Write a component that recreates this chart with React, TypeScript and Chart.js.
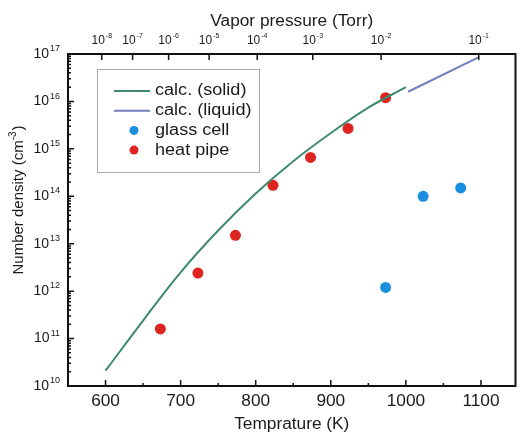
import React, { useEffect, useRef } from 'react';
import { Chart, registerables } from 'chart.js';

Chart.register(...registerables);

// ---- data ----
const solidTemps = [600, 650, 700, 750, 800, 850, 900, 950, 1000];
const solidDensity = [2.1e10, 2.4e11, 2.5e12, 1.9e13, 1.15e14, 5.5e14, 2.15e15, 7.4e15, 2.0e16];
const liquidTemps = [1003, 1098];
const liquidDensity = [1.6e16, 8.7e16];
const glassTemps = [973, 1023, 1073];
const glassDensity = [1.2e12, 1.0e14, 1.5e14];
const heatTemps = [673, 723, 773, 823, 873, 923, 973];
const heatDensity = [1.6e11, 2.4e12, 1.5e13, 1.7e14, 6.6e14, 2.7e15, 1.2e16];
// temperatures at which the vapor pressure equals the top-axis tick value
const pressureTemps = [595, 636, 684, 738, 802, 876, 967, 1097];
const pressureExponents = [-8, -7, -6, -5, -4, -3, -2, -1];
const densityExponents = [10, 11, 12, 13, 14, 15, 16, 17];
const tempTicks = [600, 650, 700, 750, 800, 850, 900, 950, 1000, 1050, 1100];
const tempLabelTicks = [600, 700, 800, 900, 1000, 1100];

const seriesLabels = ['calc. (solid)', 'calc. (liquid)', 'glass cell', 'heat pipe'];
const xTitle = 'Temprature (K)';
const x2Title = 'Vapor pressure (Torr)';
const yTitleMain = 'Number density (cm';
const yTitleExp = '-3';
const yTitleEnd = ')';

const solidColor = '#3f8a6c';
const liquidColor = '#7480bd';
const glassColor = '#1a8fde';
const heatColor = '#de2420';
const textColor = '#1a1a1a';

const FONT = "'Liberation Sans', Arial, Helvetica, sans-serif";

function textW(ctx: CanvasRenderingContext2D, t: string, size: number) {
  ctx.font = `${size}px ${FONT}`;
  return ctx.measureText(t).width;
}

function drawText(
  ctx: CanvasRenderingContext2D, t: string, x: number, y: number, size: number,
  align: 'left' | 'center' | 'right', sx = 1,
) {
  const w = textW(ctx, t, size) * sx;
  const x0 = align === 'left' ? x : align === 'center' ? x - w / 2 : x - w;
  ctx.save();
  ctx.translate(x0, y);
  ctx.scale(sx, 1);
  ctx.font = `${size}px ${FONT}`;
  ctx.textAlign = 'left';
  ctx.textBaseline = 'middle';
  ctx.fillText(t, 0, 0);
  ctx.restore();
  return w;
}

function drawPow(
  ctx: CanvasRenderingContext2D, exp: number, x: number, y: number, size: number,
  align: 'center' | 'right', sx = 1,
) {
  const es = Math.round(size * 0.62);
  const e = String(exp);
  const wb = textW(ctx, '10', size) * sx;
  const we = textW(ctx, e, es) * sx;
  const total = wb + 1 + we;
  const x0 = align === 'center' ? x - total / 2 : x - total;
  drawText(ctx, '10', x0, y, size, 'left', sx);
  drawText(ctx, e, x0 + wb + 1, y - size * 0.38, es, 'left', sx);
}

const framePlugin = {
  id: 'frameTicks',
  afterDatasetsDraw(chart: any) {
    const { ctx, chartArea } = chart;
    const { left, right, top, bottom } = chartArea;
    const xs = chart.scales.x;
    const ys = chart.scales.y;
    const xt = chart.scales.x2;
    ctx.save();
    ctx.strokeStyle = '#111';
    ctx.lineWidth = 1.5;
    ctx.beginPath();
    xs.ticks.forEach((t: any) => {
      const px = xs.getPixelForValue(t.value);
      const len = t.value % 100 === 0 ? 6 : 3;
      ctx.moveTo(px, bottom);
      ctx.lineTo(px, bottom - len);
    });
    ys.ticks.forEach((t: any) => {
      const py = ys.getPixelForValue(t.value);
      const lg = Math.log10(t.value);
      const len = Math.abs(lg - Math.round(lg)) < 1e-6 ? 6 : 3;
      ctx.moveTo(left, py);
      ctx.lineTo(left + len, py);
    });
    xt.ticks.forEach((t: any) => {
      const px = xt.getPixelForValue(t.value);
      ctx.moveTo(px, top);
      ctx.lineTo(px, top + 6);
    });
    ctx.stroke();
    ctx.lineWidth = 2;
    ctx.strokeRect(left, top, right - left, bottom - top);

    // ---- axis labels ----
    ctx.fillStyle = textColor;
    tempLabelTicks.forEach((v) => {
      drawText(ctx, String(v), xs.getPixelForValue(v), bottom + 16, 16, 'center', 1.08);
    });
    drawText(ctx, xTitle, (left + right) / 2, bottom + 39, 16, 'center', 1.08);
    pressureTemps.forEach((v, i) => {
      drawPow(ctx, pressureExponents[i], xt.getPixelForValue(v), top - 13, 12, 'center', 1.0);
    });
    drawText(ctx, x2Title, (left + right) / 2, top - 32, 16, 'center', 1.08);
    densityExponents.forEach((e) => {
      drawPow(ctx, e, left - 8, ys.getPixelForValue(Math.pow(10, e)), 14, 'right', 1.0);
    });
    // vertical title
    ctx.save();
    ctx.translate(19, 200);
    ctx.rotate(-Math.PI / 2);
    const ts = 15;
    const w1 = textW(ctx, yTitleMain, ts);
    const w2 = textW(ctx, yTitleExp, 10);
    const w3 = textW(ctx, yTitleEnd, ts);
    const tot = w1 + w2 + 1 + w3;
    let cx = -tot / 2;
    drawText(ctx, yTitleMain, cx, 0, ts, 'left');
    cx += w1;
    drawText(ctx, yTitleExp, cx, -6, 10, 'left');
    cx += w2 + 1;
    drawText(ctx, yTitleEnd, cx, 0, ts, 'left');
    ctx.restore();

    // ---- legend box inside the plot ----
    const bx = left + 29;
    const by = top + 15;
    const bw = 162;
    const bh = 103;
    ctx.fillStyle = '#fff';
    ctx.fillRect(bx, by, bw, bh);
    ctx.strokeStyle = '#aaaaaa';
    ctx.lineWidth = 1;
    ctx.strokeRect(bx + 0.5, by + 0.5, bw, bh);
    const ds = chart.data.datasets;
    ds.forEach((d: any, i: number) => {
      const cy = by + 22 + i * 19.7;
      if (d.showLine) {
        ctx.strokeStyle = d.borderColor;
        ctx.lineWidth = 2;
        ctx.beginPath();
        ctx.moveTo(bx + 17, cy);
        ctx.lineTo(bx + 53, cy);
        ctx.stroke();
      } else {
        ctx.fillStyle = d.backgroundColor;
        ctx.beginPath();
        ctx.arc(bx + 37, cy, 4.5, 0, Math.PI * 2);
        ctx.fill();
      }
      ctx.fillStyle = textColor;
      drawText(ctx, d.label, bx + 58, cy, 16, 'left', 1.13);
    });
    ctx.restore();
  },
};

export default function App() {
  const ref = useRef<HTMLCanvasElement | null>(null);
  useEffect(() => {
    if (!ref.current) return;
    Chart.defaults.font.family = FONT;
    const toXY = (xs: number[], ys: number[]) => xs.map((x, i) => ({ x, y: ys[i] }));
    const hidden = { display: false };
    const chart = new Chart(ref.current, {
      type: 'scatter',
      data: {
        datasets: [
          {
            label: seriesLabels[0],
            data: toXY(solidTemps, solidDensity),
            showLine: true,
            borderColor: solidColor,
            backgroundColor: solidColor,
            borderWidth: 2,
            pointRadius: 0,
            tension: 0.4,
          },
          {
            label: seriesLabels[1],
            data: toXY(liquidTemps, liquidDensity),
            showLine: true,
            borderColor: liquidColor,
            backgroundColor: liquidColor,
            borderWidth: 2,
            pointRadius: 0,
          },
          {
            label: seriesLabels[2],
            data: toXY(glassTemps, glassDensity),
            showLine: false,
            borderColor: glassColor,
            backgroundColor: glassColor,
            pointRadius: 5.5,
            borderWidth: 0,
          },
          {
            label: seriesLabels[3],
            data: toXY(heatTemps, heatDensity),
            showLine: false,
            borderColor: heatColor,
            backgroundColor: heatColor,
            pointRadius: 5.5,
            borderWidth: 0,
          },
        ],
      } as any,
      options: {
        responsive: false,
        animation: false,
        layout: { padding: { right: 3, left: 0, top: 0, bottom: 0 } },
        plugins: {
          legend: { display: false },
          tooltip: { enabled: false },
        },
        scales: {
          x: {
            type: 'linear',
            position: 'bottom',
            min: 550,
            max: 1146,
            grid: hidden,
            border: hidden,
            ticks: { display: false },
            afterBuildTicks: (s: any) => {
              s.ticks = tempTicks.map((v) => ({ value: v }));
            },
            afterFit: (s: any) => {
              s.height = 47;
            },
          },
          x2: {
            type: 'linear',
            position: 'top',
            min: 550,
            max: 1146,
            grid: hidden,
            border: hidden,
            ticks: { display: false },
            afterBuildTicks: (s: any) => {
              s.ticks = pressureTemps.map((v) => ({ value: v }));
            },
            afterFit: (s: any) => {
              s.height = 54;
            },
          },
          y: {
            type: 'logarithmic',
            position: 'left',
            min: 1e10,
            max: 1e17,
            grid: hidden,
            border: hidden,
            ticks: { display: false },
            afterBuildTicks: (s: any) => {
              const t: any[] = [];
              const first = densityExponents[0];
              const last = densityExponents[densityExponents.length - 1];
              for (let e = first; e < last; e++) {
                for (let k = 1; k <= 9; k++) t.push({ value: k * Math.pow(10, e) });
              }
              t.push({ value: Math.pow(10, last) });
              s.ticks = t;
            },
            afterFit: (s: any) => {
              s.width = 68;
            },
          },
        },
      } as any,
      plugins: [framePlugin],
    });
    return () => chart.destroy();
  }, []);
  return (
    <div style={{ position: 'fixed', left: 0, top: 0, width: 521, height: 433, background: '#fff' }}>
      <canvas ref={ref} width={521} height={433} style={{ display: 'block' }} />
    </div>
  );
}
